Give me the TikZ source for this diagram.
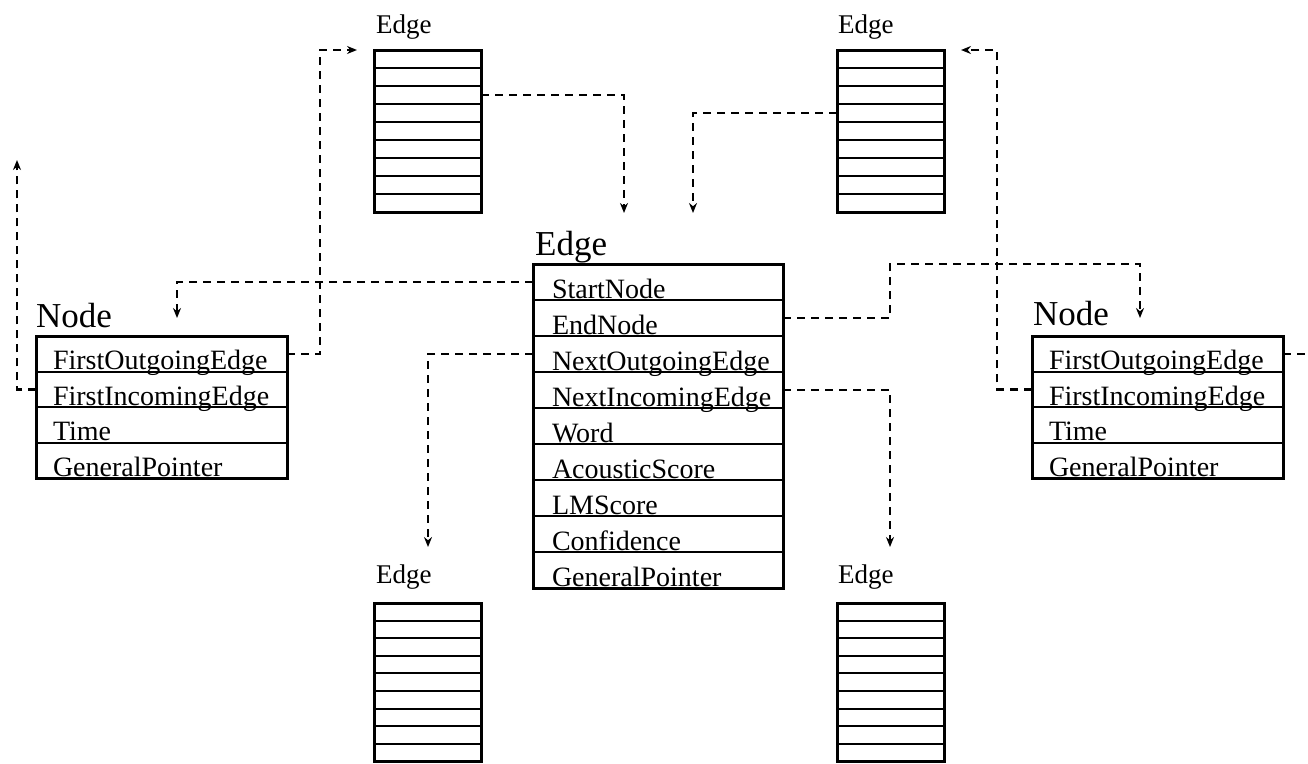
\documentclass[tikz,border=0pt]{standalone}
\usepackage{fontspec}
\setmainfont{Liberation Serif}
\usetikzlibrary{arrows.meta,positioning}
\newcommand{\fldtext}[2][212pt]{\makebox[#1][l]{#2}}
\tikzset{
  fieldrow/.style={draw=black,line width=2pt,outer sep=0pt,
                   inner xsep=19pt,inner ysep=2pt,minimum width=250pt,
                   text height=32pt,text depth=0pt,
                   font=\fontsize{28}{31}\selectfont},
  noderow/.style={fieldrow,inner xsep=17pt,minimum width=251pt,text height=31.5pt},
  slotrow/.style={draw=black,line width=2pt,outer sep=0pt,inner sep=0pt,
                  minimum width=107pt,minimum height=18pt},
  recframe/.style={draw=black,line width=3pt},
  bigtitle/.style={anchor=base west,inner sep=0pt,font=\fontsize{35}{38}\selectfont},
  smalltitle/.style={anchor=base west,inner sep=0pt,font=\fontsize{27}{30}\selectfont},
  ptrline/.style={line width=2.5pt,dash pattern=on 8pt off 6pt},
  ptr/.style={ptrline,-{Stealth[length=10pt,width=8pt]}}
}
\begin{document}
\begin{tikzpicture}[x=1pt,y=-1pt]
  \useasboundingbox (0,0) rectangle (1308,763);

  % centre edge record
  \node[bigtitle] (ce-title) at (535,255) {Edge};
  \node[fieldrow,anchor=north west] (ce-start) at (533,264) {\fldtext{StartNode}};
  \node[fieldrow,below=0pt of ce-start] (ce-end) {\fldtext{EndNode}};
  \node[fieldrow,below=0pt of ce-end] (ce-nout) {\fldtext{NextOutgoingEdge}};
  \node[fieldrow,below=0pt of ce-nout] (ce-ninc) {\fldtext{NextIncomingEdge}};
  \node[fieldrow,below=0pt of ce-ninc] (ce-word) {\fldtext{Word}};
  \node[fieldrow,below=0pt of ce-word] (ce-ac) {\fldtext{AcousticScore}};
  \node[fieldrow,below=0pt of ce-ac] (ce-lm) {\fldtext{LMScore}};
  \node[fieldrow,below=0pt of ce-lm] (ce-conf) {\fldtext{Confidence}};
  \node[fieldrow,below=0pt of ce-conf] (ce-gptr) {\fldtext{GeneralPointer}};
  \draw[recframe] (ce-start.north west) rectangle (ce-gptr.south east);

  % left node record
  \node[bigtitle] (ln-title) at (36,327) {Node};
  \node[noderow,anchor=north west] (ln-fout) at (36,336) {\fldtext[217pt]{FirstOutgoingEdge}};
  \node[noderow,below=0pt of ln-fout] (ln-finc) {\fldtext[217pt]{FirstIncomingEdge}};
  \node[noderow,below=0pt of ln-finc] (ln-time) {\fldtext[217pt]{Time}};
  \node[noderow,below=0pt of ln-time] (ln-gptr) {\fldtext[217pt]{GeneralPointer}};
  \draw[recframe] (ln-fout.north west) rectangle (ln-gptr.south east);

  % right node record
  \node[bigtitle] (rn-title) at (1033,325) {Node};
  \node[noderow,anchor=north west] (rn-fout) at (1032,336) {\fldtext[217pt]{FirstOutgoingEdge}};
  \node[noderow,below=0pt of rn-fout] (rn-finc) {\fldtext[217pt]{FirstIncomingEdge}};
  \node[noderow,below=0pt of rn-finc] (rn-time) {\fldtext[217pt]{Time}};
  \node[noderow,below=0pt of rn-time] (rn-gptr) {\fldtext[217pt]{GeneralPointer}};
  \draw[recframe] (rn-fout.north west) rectangle (rn-gptr.south east);

  % small edge records
  \node[smalltitle] (tl-title) at (376,33) {Edge};
  \node[smalltitle] (tr-title) at (838,33) {Edge};
  \node[smalltitle] (bl-title) at (376,583) {Edge};
  \node[smalltitle] (br-title) at (838,583) {Edge};
  \foreach \i in {1,...,9} {
    \node[slotrow,anchor=north west] (tl-\i) at (374,{50+18*(\i-1)}) {};
    \node[slotrow,anchor=north west] (tr-\i) at (837,{50+18*(\i-1)}) {};
    \node[slotrow,anchor=north west,minimum height=17.6pt] (bl-\i) at (374,{603+17.6*(\i-1)}) {};
    \node[slotrow,anchor=north west,minimum height=17.6pt] (br-\i) at (837,{603+17.6*(\i-1)}) {};
  }
  \draw[recframe] (tl-1.north west) rectangle (tl-9.south east);
  \draw[recframe] (tr-1.north west) rectangle (tr-9.south east);
  \draw[recframe] (bl-1.north west) rectangle (bl-9.south east);
  \draw[recframe] (br-1.north west) rectangle (br-9.south east);

  % pointer ends
  \coordinate (ln-up) at (17,160);
  \coordinate (ln-in) at (177,318);
  \coordinate (rn-in) at (1140,318);
  \coordinate (bl-in) at (428,547);
  \coordinate (br-in) at (890,547);
  \coordinate (ce-in1) at (624,213);
  \coordinate (ce-in2) at (693,213);

  % pointers
  \draw[ptr] (ln-fout.east) -- ++(33,0) |- ([xshift=-17pt]tl-1.north west);
  \draw[ptr] (ln-finc.west) -| (ln-up);
  \draw[ptr] (ce-start.west) -| (ln-in);
  \draw[ptr] (ce-nout.west) -| (bl-in);
  \draw[ptr] (ce-end.east) -- ++(107,0) -- ++(0,-54) -| (rn-in);
  \draw[ptr] (ce-ninc.east) -| (br-in);
  \draw[ptr] (tl-3.east) -| (ce-in1);
  \draw[ptr] (tr-4.west) -| (ce-in2);
  \draw[ptr] (rn-finc.west) -- ++(-35,0) |- ([xshift=17pt]tr-1.north east);
  \draw[ptrline] (rn-fout.east) -- ++(30,0);
\end{tikzpicture}
\end{document}
